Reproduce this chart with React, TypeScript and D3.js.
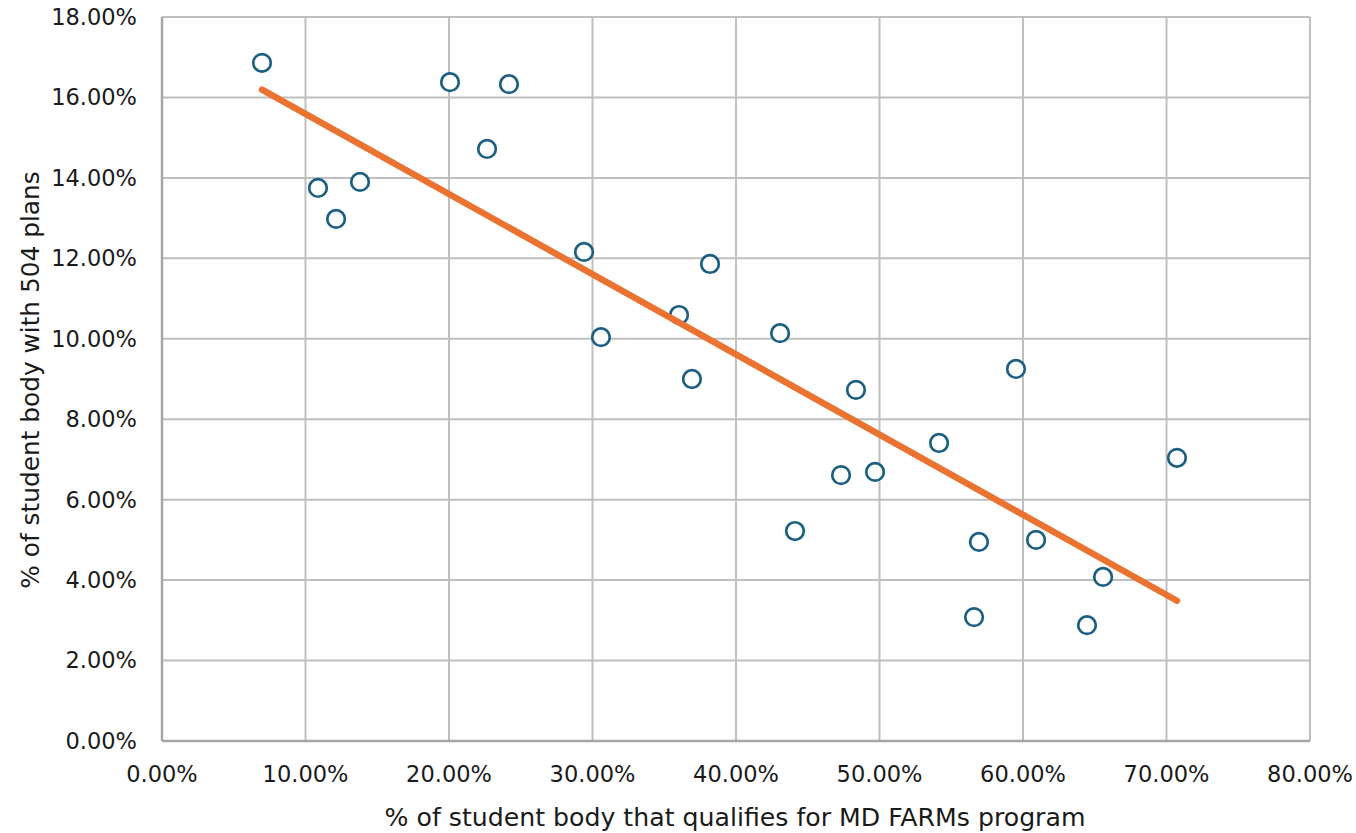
import React from "react";
import * as d3 from "d3";

const farmsPct = [6.97, 10.87, 12.13, 13.8, 20.07, 22.65, 24.18, 29.41, 30.59, 36.03, 36.93, 38.19, 43.07, 44.11, 47.32, 48.36, 49.69, 54.15, 56.59, 56.93, 59.51, 60.91, 64.46, 65.58, 70.73];
const plan504Pct = [16.86, 13.75, 12.98, 13.9, 16.38, 14.72, 16.33, 12.16, 10.04, 10.59, 9.0, 11.86, 10.14, 5.22, 6.61, 8.73, 6.69, 7.41, 3.08, 4.95, 9.25, 5.0, 2.88, 4.08, 7.04];
const xTicks = [0, 10, 20, 30, 40, 50, 60, 70, 80];
const yTicks = [0, 2, 4, 6, 8, 10, 12, 14, 16, 18];
const xTitle = "% of student body that qualifies for MD FARMs program";
const yTitle = "% of student body with 504 plans";

const W = 1356;
const H = 833;
const M = { left: 162, right: 1310, top: 17, bottom: 741 };

export default function App() {
  const x = d3.scaleLinear().domain([0, 80]).range([M.left, M.right]);
  const y = d3.scaleLinear().domain([0, 18]).range([M.bottom, M.top]);

  // least-squares linear trendline
  const n = farmsPct.length;
  const mx = d3.mean(farmsPct)!;
  const my = d3.mean(plan504Pct)!;
  let sxy = 0, sxx = 0;
  for (let i = 0; i < n; i++) {
    sxy += (farmsPct[i] - mx) * (plan504Pct[i] - my);
    sxx += (farmsPct[i] - mx) ** 2;
  }
  const slope = sxy / sxx;
  const icpt = my - slope * mx;
  const x0 = d3.min(farmsPct)!;
  const x1 = d3.max(farmsPct)!;
  const line = d3.line<[number, number]>().x((d) => x(d[0])).y((d) => y(d[1]));
  const trend = line([
    [x0, icpt + slope * x0],
    [x1, icpt + slope * x1],
  ]);

  const font = "'DejaVu Sans', sans-serif";
  const fmt = (v: number) => v.toFixed(2) + "%";

  return (
    <svg
      width={W}
      height={H}
      style={{ position: "fixed", left: 0, top: 0, background: "#fff" }}
      fontFamily={font}
    >
      <rect width={W} height={H} fill="#fff" />
      {xTicks.map((t) => (
        <line key={"gx" + t} x1={x(t)} x2={x(t)} y1={M.top} y2={M.bottom} stroke="#bfbfbf" strokeWidth={2} />
      ))}
      {yTicks.map((t) => (
        <line key={"gy" + t} x1={M.left} x2={M.right} y1={y(t)} y2={y(t)} stroke="#bfbfbf" strokeWidth={2} />
      ))}
      <line x1={M.left} x2={M.left} y1={M.top} y2={M.bottom} stroke="#a6a6a6" strokeWidth={2.5} />
      <line x1={M.left} x2={M.right} y1={M.bottom} y2={M.bottom} stroke="#a6a6a6" strokeWidth={2.5} />

      {yTicks.map((t) => (
        <text key={"ty" + t} x={137} y={y(t)} dy="0.35em" textAnchor="end" fontSize={22.5} fill="#1a1a1a">
          {fmt(t)}
        </text>
      ))}
      {xTicks.map((t) => (
        <text key={"tx" + t} x={x(t)} y={774} dy="0.35em" textAnchor="middle" fontSize={22.5} fill="#1a1a1a">
          {fmt(t)}
        </text>
      ))}
      <text x={735} y={817} dy="0.35em" textAnchor="middle" fontSize={25.2} fill="#1a1a1a">
        {xTitle}
      </text>
      <text
        transform={`translate(30, 380) rotate(-90)`}
        dy="0.35em"
        textAnchor="middle"
        fontSize={24.8}
        fill="#1a1a1a"
      >
        {yTitle}
      </text>

      {farmsPct.map((v, i) => (
        <circle key={"p" + i} cx={x(v)} cy={y(plan504Pct[i])} r={8.8} fill="#fff" stroke="#1c5f82" strokeWidth={2.7} />
      ))}
      <path d={trend ?? ""} stroke="#eb7331" strokeWidth={6.5} strokeLinecap="round" fill="none" />
    </svg>
  );
}
